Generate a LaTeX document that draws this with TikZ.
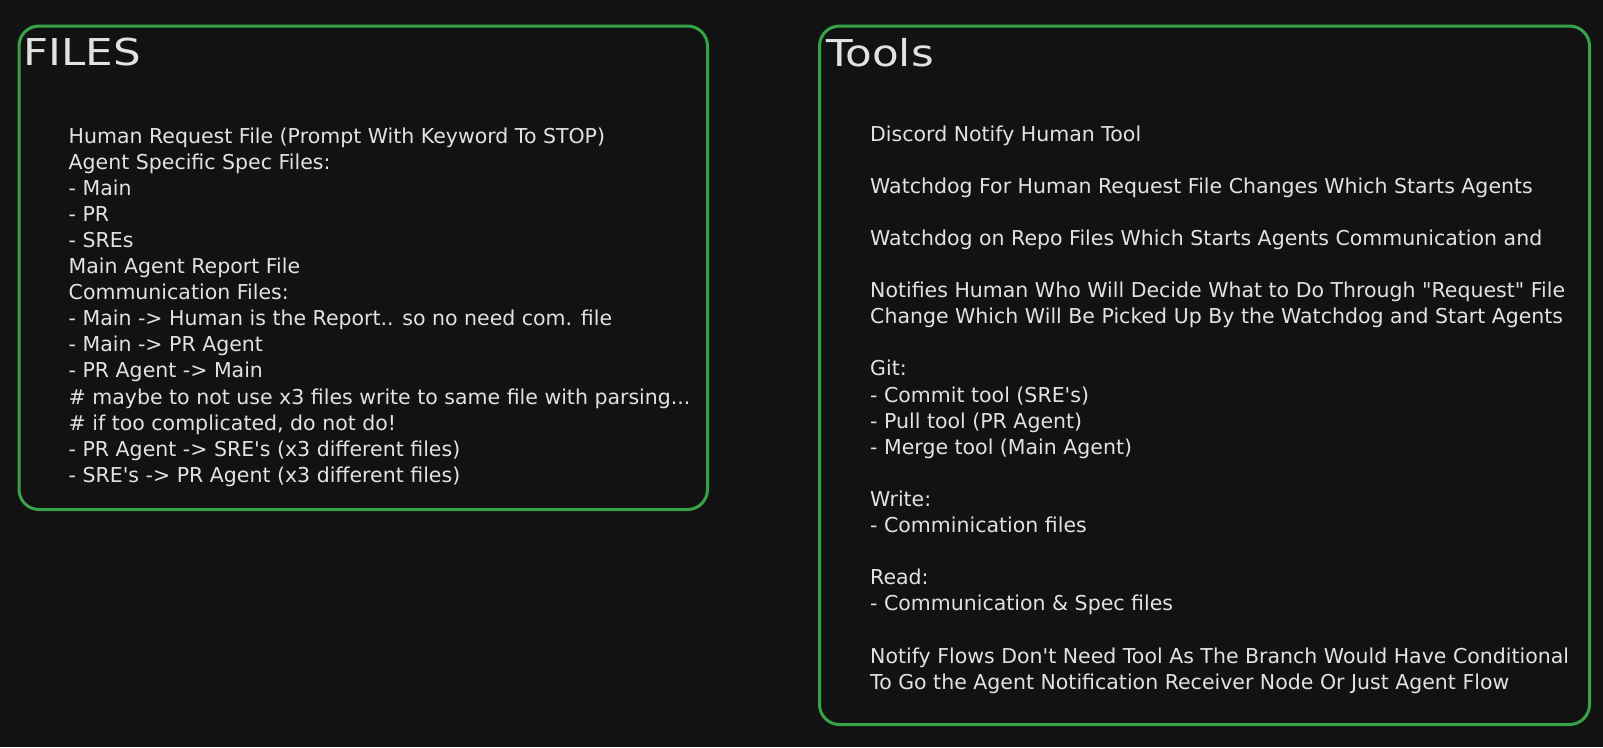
\documentclass[tikz,border=0pt]{standalone}
\usepackage{fontspec}
\setmainfont{DejaVu Sans}
\newfontfamily\titlefont{DejaVu Sans}[FakeStretch=1.18]
\usetikzlibrary{positioning}
\definecolor{canvas}{HTML}{121212}
\definecolor{boxgreen}{HTML}{37A349}
\definecolor{ink}{HTML}{E2E2E2}
\newcommand{\sq}{\textquotesingle}

\begin{document}
\begin{tikzpicture}[
x=1pt,y=-1pt,
panel/.style={
	draw=boxgreen,
	line width=3pt,
	rounded corners=20pt,
	anchor=north west,
	inner sep=0pt
},
heading/.style={
	text=ink,
	anchor=base west,
	inner sep=0pt,
	font=\titlefont\fontsize{37}{40}\selectfont
},
body/.style={
	text=ink,
	anchor=base west,
	inner sep=0pt,
	font=\fontsize{20.5}{26}\selectfont
}
]
\fill[canvas] (0,0) rectangle (1603,747);
\useasboundingbox (0,0) rectangle (1603,747);

\node[panel,minimum width=688.5pt,minimum height=483.5pt] (files) at (17.5,24.5) {};
\node[panel,minimum width=770pt,minimum height=698.5pt] (tools) at (818,24.5) {};

\node[heading] (filestitle) at (23,65) {FILES};
\node[heading] (toolstitle) at (826,66) {Tools};

\foreach \n/\t in {0/{Human Request File (Prompt With Keyword To STOP)},
	1/{Agent Specific Spec Files:},
	2/{- Main},
	3/{- PR},
	4/{- SREs},
	5/{Main Agent Report File},
	6/{Communication Files:},
	7/{- Main -> Human is the Report.. so no need com. file},
	8/{- Main -> PR Agent},
	9/{- PR Agent -> Main},
	10/{\# maybe to not use x3 files write to same file with parsing...},
	11/{\# if too complicated, do not do!},
	12/{- PR Agent -> SRE\sq s (x3 different files)},
	13/{- SRE\sq s -> PR Agent (x3 different files)}}
\node[body] (f\n) at (68.5,143+26.1*\n) {\t};

\foreach \n/\t in {0/{Discord Notify Human Tool},
	2/{Watchdog For Human Request File Changes Which Starts Agents},
	4/{Watchdog on Repo Files Which Starts Agents Communication and},
	6/{Notifies Human Who Will Decide What to Do Through \textquotedbl Request\textquotedbl{} File},
	7/{Change Which Will Be Picked Up By the Watchdog and Start Agents},
	9/{Git:},
	10/{- Commit tool (SRE\sq s)},
	11/{- Pull tool (PR Agent)},
	12/{- Merge tool (Main Agent)},
	14/{Write:},
	15/{- Comminication files},
	17/{Read:},
	18/{- Communication \& Spec files},
	20/{Notify Flows Don\sq t Need Tool As The Branch Would Have Conditional},
	21/{To Go the Agent Notification Receiver Node Or Just Agent Flow}}
\node[body] (t\n) at (870,141+26.1*\n) {\t};
\end{tikzpicture}
\end{document}
